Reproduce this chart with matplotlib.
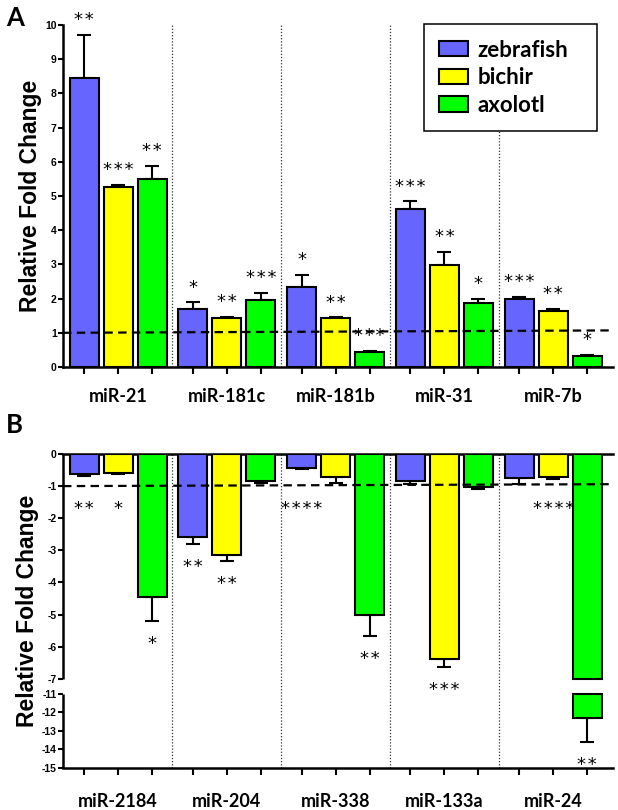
import numpy as np
import matplotlib
matplotlib.use('Agg')
import matplotlib.pyplot as plt
from matplotlib.patches import Patch

# categories
species = ['zebrafish', 'bichir', 'axolotl']
groups_a = ['miR-21', 'miR-181c', 'miR-181b', 'miR-31', 'miR-7b']
groups_b = ['miR-2184', 'miR-204', 'miR-338', 'miR-133a', 'miR-24']

# panel A: up-regulated
zebrafish_a = [8.44, 1.69, 2.33, 4.62, 2.00]
zebrafish_a_err = [1.27, 0.20, 0.36, 0.22, 0.06]
bichir_a = [5.26, 1.42, 1.42, 2.98, 1.64]
bichir_a_err = [0.07, 0.05, 0.03, 0.38, 0.05]
axolotl_a = [5.49, 1.95, 0.45, 1.87, 0.32]
axolotl_a_err = [0.39, 0.21, 0.03, 0.13, 0.03]
zebrafish_a_sig = ['**', '*', '*', '***', '***']
bichir_a_sig = ['***', '**', '**', '**', '**']
axolotl_a_sig = ['**', '***', '***', '*', '*']

# panel B: down-regulated
zebrafish_b = [-0.63, -2.59, -0.45, -0.85, -0.76]
zebrafish_b_err = [0.06, 0.21, 0.03, 0.09, 0.16]
bichir_b = [-0.59, -3.14, -0.73, -6.40, -0.73]
bichir_b_err = [0.04, 0.19, 0.16, 0.24, 0.05]
axolotl_b = [-4.46, -0.84, -5.03, -1.03, -12.30]
axolotl_b_err = [0.75, 0.06, 0.64, 0.05, 1.33]
zebrafish_b_sig = ['**', '**', '****', '', '']
bichir_b_sig = ['*', '**', '', '***', '****']
axolotl_b_sig = ['*', '', '**', '', '**']

yticks_a = list(range(0, 11))
yticks_b = [0, -1, -2, -3, -4, -5, -6, -7, -11, -12, -13, -14, -15]
break_top = -7
break_bottom = -11

colors = ['#6666ff', '#ffff00', '#00ff00']
LABEL_FONT = 'Lato'
NUM_FONT = 'Liberation Sans'
STAR_FONT = 'DejaVu Sans'

group_step = 3.2
bar_w = 0.85
x_base = np.arange(5) * group_step

# broken y scale for panel B
gap_k = 0.115
low_k = 0.58


def fwd(v):
    v = np.asarray(v, dtype=float)
    mid = break_top + (v - break_top) * gap_k
    low = break_top + (break_bottom - break_top) * gap_k + (v - break_bottom) * low_k
    return np.where(v >= break_top, v, np.where(v > break_bottom, mid, low))


def inv(u):
    u = np.asarray(u, dtype=float)
    u_low = break_top + (break_bottom - break_top) * gap_k
    mid = break_top + (u - break_top) / gap_k
    low = break_bottom + (u - u_low) / low_k
    return np.where(u >= break_top, u, np.where(u > u_low, mid, low))


def stars(s):
    # spread the asterisks a little, like the original
    return '\u200a'.join(s)


def style_axes(ax, groups, label_pad):
    centers = np.concatenate([x_base + j for j in range(3)])
    ax.xaxis.remove_overlapping_locs = False
    ax.set_xticks(np.sort(centers))
    ax.set_xticklabels([])
    ax.set_xticks(x_base + 1, minor=True)
    ax.set_xticklabels(groups, minor=True, fontfamily=LABEL_FONT,
                       fontweight='bold', fontsize=13)
    ax.tick_params(axis='x', which='major', direction='out', length=5,
                   width=1.5)
    ax.tick_params(axis='x', which='minor', length=0, pad=label_pad)
    ax.tick_params(axis='y', direction='out', length=3.5, width=1.5, pad=1)
    for lab in ax.get_yticklabels():
        lab.set_fontfamily(NUM_FONT)
        lab.set_fontweight('bold')
        lab.set_fontsize(7.5)
    ax.spines['right'].set_visible(False)
    ax.set_xlim(-0.62, x_base[-1] + 2.76)
    for i in range(4):
        ax.axvline(x_base[i] + 2 + (group_step - 2) / 2, color='#333333',
                   linewidth=0.9, linestyle=(0, (1, 1.5)), zorder=1)
    ax.set_ylabel('Relative Fold Change', fontfamily=NUM_FONT,
                  fontweight='bold', fontsize=16.5, labelpad=2)


fig = plt.figure(figsize=(6.18, 8.10), dpi=100)

# ---------- panel A ----------
ax1 = fig.add_axes([63 / 618, 1 - 367 / 810, 550 / 618, 342 / 810])
vals_a = [zebrafish_a, bichir_a, axolotl_a]
errs_a = [zebrafish_a_err, bichir_a_err, axolotl_a_err]
sigs_a = [zebrafish_a_sig, bichir_a_sig, axolotl_a_sig]
for j in range(3):
    xs = x_base + j
    ax1.bar(xs, vals_a[j], width=bar_w, color=colors[j], edgecolor='black',
            linewidth=1.5, zorder=3, label=species[j])
    ax1.errorbar(xs, vals_a[j], yerr=[np.zeros(5), errs_a[j]], fmt='none',
                 ecolor='black', elinewidth=1.5, capsize=5, capthick=1.5,
                 zorder=2)
    for k in range(5):
        top = vals_a[j][k] + errs_a[j][k]
        ax1.annotate(stars(sigs_a[j][k]), xy=(xs[k], top), xytext=(0, 7),
                     textcoords='offset points', ha='center', va='baseline',
                     fontfamily=STAR_FONT, fontsize=13, zorder=4)
ax1.set_ylim(0, 10)
ax1.set_yticks(yticks_a)
ax1.spines['top'].set_visible(False)
ax1.spines['left'].set_linewidth(1.8)
ax1.spines['bottom'].set_linewidth(1.8)
ax1.plot([0, 1], [1.0, 1.07], transform=ax1.get_yaxis_transform(),
         color='black', linewidth=1.6, dashes=(3.8, 2.4), zorder=5,
         clip_on=False)
style_axes(ax1, groups_a, 15)

handles = [Patch(facecolor=colors[j], edgecolor='black', linewidth=1.5,
                 label=species[j]) for j in range(3)]
leg = ax1.legend(handles=handles, loc='upper left',
                 bbox_to_anchor=(0.656, 0.0, 0.3145, 1.003), mode='expand',
                 borderaxespad=0, fancybox=False, framealpha=1,
                 edgecolor='black', handlelength=1.3, handleheight=0.68,
                 handletextpad=0.4, labelspacing=0.3, borderpad=0.7,
                 prop={'family': LABEL_FONT, 'weight': 'bold', 'size': 16})
leg.get_frame().set_linewidth(1.1)
leg.set_zorder(10)

fig.text(6 / 618, 1 - 6 / 810, 'A', fontfamily=LABEL_FONT, fontweight='bold',
         fontsize=18.5, va='top', ha='left')

# ---------- panel B ----------
ax2 = fig.add_axes([63 / 618, 1 - 768 / 810, 550 / 618, 314 / 810])
ax2.set_yscale('function', functions=(fwd, inv))
vals_b = [zebrafish_b, bichir_b, axolotl_b]
errs_b = [zebrafish_b_err, bichir_b_err, axolotl_b_err]
sigs_b = [zebrafish_b_sig, bichir_b_sig, axolotl_b_sig]
for j in range(3):
    xs = x_base + j
    v = np.array(vals_b[j])
    upper = np.maximum(v, break_top)
    ax2.bar(xs, upper, width=bar_w, color=colors[j], edgecolor='black',
            linewidth=1.5, zorder=3)
    deep = v < break_bottom
    if deep.any():
        ax2.bar(xs[deep], v[deep] - break_bottom, bottom=break_bottom,
                width=bar_w, color=colors[j], edgecolor='black',
                linewidth=1.5, zorder=3)
    ax2.errorbar(xs, v, yerr=[errs_b[j], np.zeros(5)], fmt='none',
                 ecolor='black', elinewidth=1.5, capsize=5, capthick=1.5,
                 zorder=2)
    for k in range(5):
        low = min(v[k] - errs_b[j][k], -1.0)
        ax2.annotate(stars(sigs_b[j][k]), xy=(xs[k], low), xytext=(0, -20),
                     textcoords='offset points', ha='center', va='baseline',
                     fontfamily=STAR_FONT, fontsize=13, zorder=4)
ax2.set_ylim(-15, 0)
ax2.set_yticks(yticks_b)
ax2.set_yticklabels([str(t) for t in yticks_b])
ax2.spines['left'].set_visible(False)
ax2.spines['top'].set_linewidth(1.8)
ax2.spines['bottom'].set_linewidth(1.8)
ytr = ax2.get_yaxis_transform()
ax2.plot([0, 0], [0, break_top], transform=ytr, color='black',
         linewidth=1.8, clip_on=False, zorder=6, solid_capstyle='butt')
ax2.plot([0, 0], [break_bottom, -15], transform=ytr, color='black',
         linewidth=1.8, clip_on=False, zorder=6, solid_capstyle='butt')
ax2.plot([0, 1], [-1.0, -0.94], transform=ytr, color='black',
         linewidth=1.6, dashes=(3.8, 2.4), zorder=5, clip_on=False)
style_axes(ax2, groups_b, 18)

fig.text(6 / 618, 1 - 413 / 810, 'B', fontfamily=LABEL_FONT, fontweight='bold',
         fontsize=18.5, va='top', ha='left')

fig.savefig('out.png', dpi=100)
